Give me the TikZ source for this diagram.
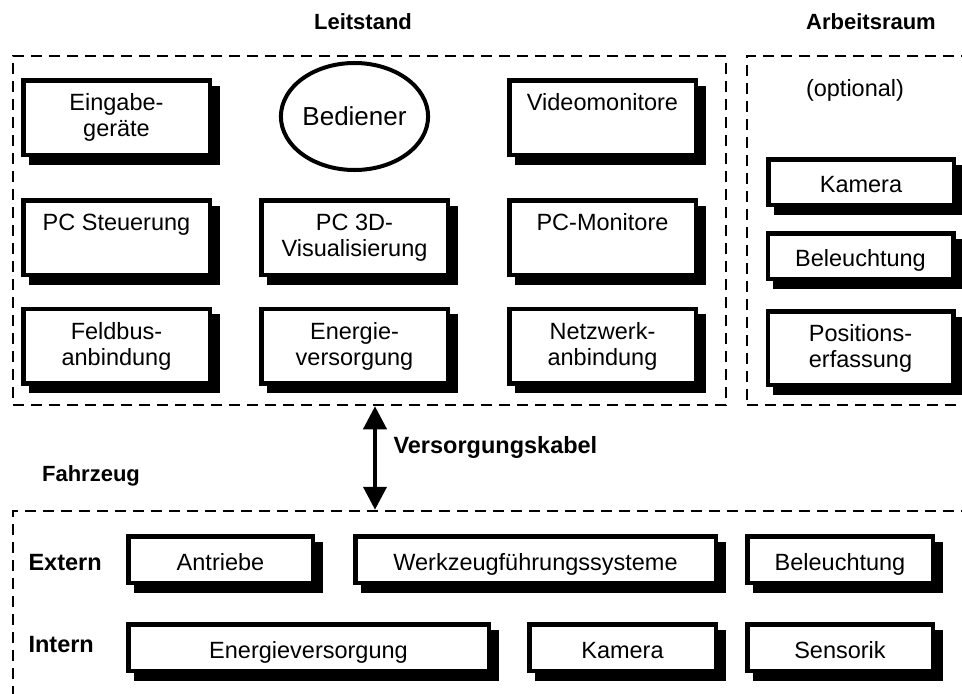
\documentclass[tikz,border=0pt]{standalone}
\usepackage{fontspec}
\setmainfont{Liberation Sans}
\usetikzlibrary{shadows,shapes.geometric,arrows.meta}

\begin{document}
\begin{tikzpicture}[x=1pt,y=-1pt,
  every node/.style={font=\fontsize{23.5}{26}\selectfont},
  unit/.style={draw=black, line width=4.5pt, fill=white, inner sep=0pt, align=center,
    drop shadow={shadow xshift=7.5pt, shadow yshift=-7.5pt, opacity=1,
      fill=black, draw=black, line width=4.5pt}},
  lbox/.style={unit, minimum width=186.5pt, minimum height=74.5pt},
  abox/.style={unit, minimum width=185.5pt},
  oneline/.style={text height=20pt, text depth=0pt},
  fbox/.style={unit, minimum height=46.5pt, text height=21pt, text depth=0pt},
  area/.style={draw=black, line width=2.5pt, dash pattern=on 11pt off 7pt,
    rectangle, inner sep=0pt},
  title/.style={font=\bfseries\fontsize{22}{26}\selectfont},
  rowlabel/.style={font=\bfseries\fontsize{23.5}{26}\selectfont, anchor=west},
  cable/.style={line width=4pt, >={Triangle[width=23pt,length=23pt]}, <->}
]
\useasboundingbox (0,0) rectangle (962,694);
\clip (0,0) rectangle (962,694);

% dashed areas
\node[area, minimum width=713pt, minimum height=349pt] (leit) at (369.5,230.5) {};
\node[area, minimum width=253pt, minimum height=349pt] (arb) at (873.5,230.5) {};
\node[area, minimum width=987pt, minimum height=209pt] (fz) at (506.5,615.5) {};

% area titles
\node[title] (tleit) at (363,22) {Leitstand};
\node[title] (tarb) at (871,22) {Arbeitsraum};
\node[title] (tfz) at (91,476) {Fahrzeug};

% Leitstand
\node[lbox] (eing) at (116.5,117.5) {Eingabe-\\geräte};
\node[ellipse, draw=black, line width=4pt, fill=white, inner sep=0pt,
  minimum width=121pt, minimum height=107pt,
  font=\fontsize{26}{28}\selectfont] (bed) at (354.5,116.5) {Bediener};
\node[lbox] (video) at (602.5,117.5) {Videomonitore\\\vphantom{g}};
\node[lbox] (pcst) at (116.5,237.5) {PC Steuerung\\\vphantom{g}};
\node[lbox] (pc3d) at (354.5,237.5) {PC 3D-\\Visualisierung};
\node[lbox] (pcmon) at (602.5,237.5) {PC-Monitore\\\vphantom{g}};
\node[lbox] (feld) at (116.5,346) {Feldbus-\\anbindung};
\node[lbox] (energ) at (354.5,346) {Energie-\\versorgung};
\node[lbox] (netz) at (602.5,346) {Netzwerk-\\anbindung};

% Arbeitsraum
\node (opt) at (855,90) {(optional)};
\node[abox, oneline, minimum height=45.5pt] (akam) at (861,182) {Kamera};
\node[abox, oneline, minimum height=45.5pt] (abel) at (860.5,256) {Beleuchtung};
\node[abox, minimum height=73.5pt] (apos) at (860.5,348) {Positions-\\erfassung};

% supply cable
\coordinate (ka) at ([xshift=5.5pt]leit.south);
\draw[cable] (ka) -- (ka |- fz.north);
\node[rowlabel] (kabel) at (390,447) {Versorgungskabel};

% Fahrzeug
\node[rowlabel] (ext) at (25,563) {Extern};
\node[rowlabel] (int) at (25,645) {Intern};
\node[fbox, minimum width=184.5pt] (antr) at (220.5,559.5) {Antriebe};
\node[fbox, minimum width=360.5pt] (wzf) at (535.5,559.5) {Werkzeugführungssysteme};
\node[fbox, minimum width=185.5pt] (fbel) at (840,559.5) {Beleuchtung};
\node[fbox, minimum width=360.5pt] (fen) at (308.5,647.5) {Energieversorgung};
\node[fbox, minimum width=186.5pt] (fkam) at (622.5,647.5) {Kamera};
\node[fbox, minimum width=185.5pt] (fsens) at (840,647.5) {Sensorik};
\end{tikzpicture}
\end{document}
